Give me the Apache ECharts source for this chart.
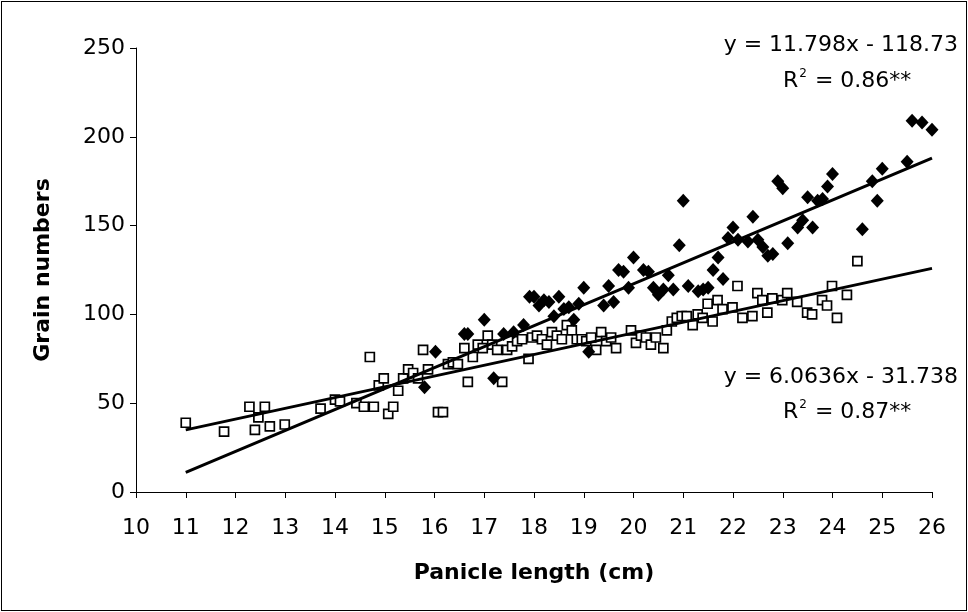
<!DOCTYPE html>
<html>
<head>
<meta charset="utf-8">
<script src="https://cdn.jsdelivr.net/npm/echarts@6/dist/echarts.min.js"></script>
<style>
html,body{margin:0;padding:0;background:#fff;}
#frame{position:absolute;left:1px;top:1px;width:964px;height:608px;border:1px solid #000;}
#chart{position:absolute;left:0;top:0;width:968px;height:612px;}
</style>
</head>
<body>
<div id="frame"></div>
<div id="chart"></div>
<script>
// Filled diamonds (series A)
const diamondX = [15.8,16.02,16.6,16.67,17.0,17.19,17.39,17.59,17.79,17.91,18.0,18.1,18.2,18.3,18.4,18.5,18.6,18.7,18.8,18.9,19.0,19.1,19.4,19.5,19.6,19.7,19.8,19.9,20.0,20.2,20.3,20.4,20.5,20.6,20.7,20.8,20.92,21.0,21.1,21.3,21.4,21.5,21.6,21.7,21.8,21.9,22.0,22.1,22.3,22.4,22.5,22.6,22.7,22.8,22.9,23.0,23.1,23.3,23.4,23.5,23.6,23.7,23.8,23.9,24.0,24.6,24.8,24.9,25.0,25.5,25.6,25.8,26.0];
const diamondY = [59,79,89,89,97,64,89,90,94,110,110,105,108,107,99,110,103,104,97,106,115,79,105,116,107,125,124,115,132,125,124,115,111,114,122,114,139,164,116,113,114,115,125,132,120,143,149,142,141,155,142,138,133,134,175,171,140,149,153,166,149,164,165,172,179,148,175,164,182,186,209,208,204];
// Open squares (series B)
const squareX = [11.0,11.77,12.28,12.39,12.46,12.59,12.69,12.99,13.71,14.0,14.1,14.43,14.58,14.7,14.78,14.88,14.98,15.07,15.17,15.27,15.37,15.47,15.57,15.67,15.77,15.87,16.07,16.17,16.27,16.37,16.47,16.6,16.67,16.77,16.87,16.97,17.07,17.16,17.26,17.36,17.46,17.56,17.66,17.76,17.89,17.96,18.06,18.16,18.26,18.36,18.46,18.56,18.66,18.76,18.86,18.96,19.05,19.15,19.25,19.35,19.45,19.55,19.65,19.95,20.05,20.15,20.25,20.35,20.45,20.6,20.67,20.77,20.87,20.97,21.07,21.19,21.29,21.39,21.49,21.59,21.69,21.79,21.99,22.09,22.19,22.39,22.49,22.59,22.69,22.79,22.99,23.09,23.29,23.49,23.59,23.79,23.89,23.99,24.09,24.29,24.5];
const squareY = [39,34,48,35,42,48,37,38,47,52,51,50,48,76,48,60,64,44,48,57,64,69,67,64,80,69,45,45,72,73,72,81,62,76,83,81,88,83,80,62,80,82,85,86,75,87,88,86,83,90,88,86,94,91,86,86,85,87,80,90,85,87,81,91,84,88,87,83,87,81,91,96,98,99,99,94,100,98,106,96,108,103,104,116,98,99,112,108,101,109,108,112,107,101,100,108,105,116,98,111,130];
// Trend lines (from the fitted equations)
const trendA = {slope: 11.798, intercept: -118.73};
const trendB = {slope: 6.0636, intercept: -31.738};
const trendRange = [11, 26];
const xTicks = {min: 10, max: 26, interval: 1};
const yTicks = {min: 0, max: 250, interval: 50};
const labelA = ['y = 11.798x - 118.73', '0.86**'];
const labelB = ['y = 6.0636x - 31.738', '0.87**'];

const font = '"DejaVu Sans", sans-serif';
const chart = echarts.init(document.getElementById('chart'), null, {renderer: 'canvas'});
const pairs = (xs, ys) => xs.map((x, i) => [x, ys[i]]);
const line = t => trendRange.map(x => [x, t.slope * x + t.intercept]);

function eqText(lines, y1, y2) {
  return [
    {type: 'text', x: 958, y: y1, style: {text: lines[0], font: '22px ' + font, fill: '#000', align: 'right', verticalAlign: 'middle'}},
    {type: 'text', x: 783, y: y2, style: {
      text: '{b|R}{s|2}{b| = ' + lines[1] + '}', verticalAlign: 'middle',
      rich: {b: {fontSize: 22, fontFamily: font, color: '#000', verticalAlign: 'bottom'},
             s: {fontSize: 12, fontFamily: font, color: '#000', verticalAlign: 'top', padding: [0,1,12,1]}}
    }}
  ];
}

chart.setOption({
  animation: false,
  backgroundColor: 'transparent',
  grid: {left: 136, right: 36, top: 48, bottom: 120, containLabel: false},
  xAxis: {
    type: 'value', min: xTicks.min, max: xTicks.max, interval: xTicks.interval,
    name: 'Panicle length (cm)', nameLocation: 'middle', nameGap: 70,
    nameTextStyle: {fontFamily: font, fontSize: 22, fontWeight: 'bold', color: '#000'},
    axisLine: {onZero: false, lineStyle: {color: '#000', width: 1}},
    axisTick: {show: true, length: 6, lineStyle: {color: '#000'}},
    axisLabel: {fontFamily: font, fontSize: 22, color: '#000', margin: 25},
    splitLine: {show: false}
  },
  yAxis: {
    type: 'value', min: yTicks.min, max: yTicks.max, interval: yTicks.interval,
    name: 'Grain numbers', nameLocation: 'middle', nameGap: 82, nameRotate: 90,
    nameTextStyle: {fontFamily: font, fontSize: 22, fontWeight: 'bold', color: '#000'},
    axisLine: {show: true, lineStyle: {color: '#000', width: 1}},
    axisTick: {show: true, length: 6, lineStyle: {color: '#000'}},
    axisLabel: {fontFamily: font, fontSize: 22, color: '#000', margin: 11},
    splitLine: {show: false}
  },
  series: [
    {type: 'scatter', data: pairs(squareX, squareY), symbol: 'rect', symbolSize: 9,
     itemStyle: {color: '#fff', borderColor: '#000', borderWidth: 1.7, opacity: 1}, z: 2},
    {type: 'scatter', data: pairs(diamondX, diamondY), symbol: 'diamond', symbolSize: [13, 14],
     itemStyle: {color: '#000', opacity: 1}, z: 3},
    {type: 'line', data: line(trendA), showSymbol: false, symbol: 'none',
     lineStyle: {color: '#000', width: 3}, z: 4},
    {type: 'line', data: line(trendB), showSymbol: false, symbol: 'none',
     lineStyle: {color: '#000', width: 3}, z: 4}
  ],
  graphic: [...eqText(labelA, 45, 80), ...eqText(labelB, 377, 411)]
});
</script>
</body>
</html>
